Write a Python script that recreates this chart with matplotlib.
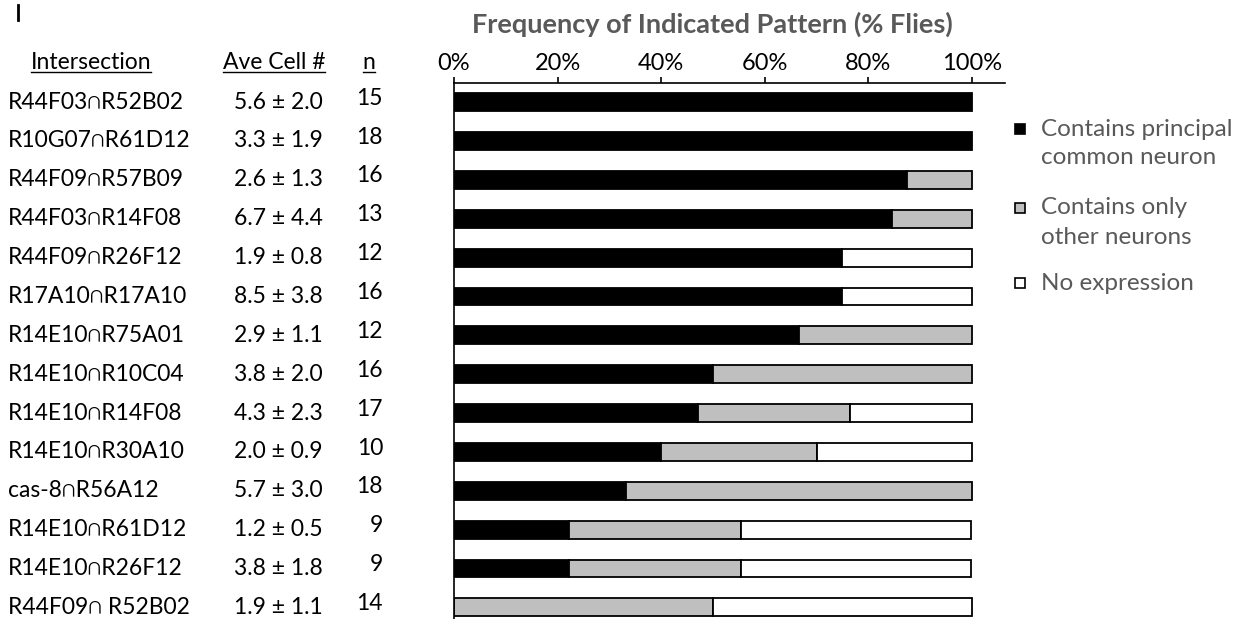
import matplotlib
matplotlib.use('Agg')
import matplotlib.pyplot as plt
import matplotlib.transforms as mtransforms
from matplotlib.lines import Line2D
from matplotlib.patches import Rectangle

plt.rcParams['font.family'] = ['Lato', 'DejaVu Sans']

# table columns
intersections = ['R44F03\u2229R52B02', 'R10G07\u2229R61D12', 'R44F09\u2229R57B09',
                 'R44F03\u2229R14F08', 'R44F09\u2229R26F12', 'R17A10\u2229R17A10',
                 'R14E10\u2229R75A01', 'R14E10\u2229R10C04', 'R14E10\u2229R14F08',
                 'R14E10\u2229R30A10', 'cas-8\u2229R56A12', 'R14E10\u2229R61D12',
                 'R14E10\u2229R26F12', 'R44F09\u2229 R52B02']
ave_cells = ['5.6 \u00b1 2.0', '3.3 \u00b1 1.9', '2.6 \u00b1 1.3', '6.7 \u00b1 4.4',
             '1.9 \u00b1 0.8', '8.5 \u00b1 3.8', '2.9 \u00b1 1.1', '3.8 \u00b1 2.0',
             '4.3 \u00b1 2.3', '2.0 \u00b1 0.9', '5.7 \u00b1 3.0', '1.2 \u00b1 0.5',
             '3.8 \u00b1 1.8', '1.9 \u00b1 1.1']
n_flies = [15, 18, 16, 13, 12, 16, 12, 16, 17, 10, 18, 9, 9, 14]

# % flies per pattern
principal = [100, 100, 87.5, 84.6, 75, 75, 66.7, 50, 47.1, 40, 33.3, 22.2, 22.2, 0]
other_only = [0, 0, 12.5, 15.4, 0, 0, 33.3, 50, 29.4, 30, 66.7, 33.3, 33.3, 50]
no_expr = [0, 0, 0, 0, 25, 25, 0, 0, 23.5, 30, 0, 44.4, 44.4, 50]

legend_labels = ['Contains principal\ncommon neuron',
                 'Contains only\nother neurons',
                 'No expression']
colors = ['#000000', '#bfbfbf', '#ffffff']
xticks = [0, 20, 40, 60, 80, 100]

W, H = 1239, 619
fig = plt.figure(figsize=(W / 100, H / 100), dpi=100)
ax = fig.add_axes([454 / W, 0, 551 / W, (H - 82.7) / H])

rows = list(range(len(intersections)))
left = [0] * len(rows)
for vals, col in zip([principal, other_only, no_expr], colors):
    lw = [1.3 if v > 0 else 0 for v in vals]
    ax.barh(rows, vals, left=left, height=0.46, color=col,
            edgecolor='black', linewidth=lw)
    left = [a + b for a, b in zip(left, vals)]

ax.set_xlim(0, 106.4)
ax.set_ylim(13.3, -0.5)
for s in ['right', 'bottom']:
    ax.spines[s].set_visible(False)
ax.spines['top'].set_linewidth(1.2)
ax.spines['left'].set_linewidth(1.2)
ax.xaxis.tick_top()
ax.set_xticks(xticks)
ax.set_xticklabels([f'{v}%' for v in xticks], fontsize=17)
ax.tick_params(axis='x', direction='out', length=4, width=1.2, pad=2)
ax.set_yticks([])

# table at left
tr = mtransforms.blended_transform_factory(fig.transFigure, ax.transData)
fs = 16.5
for i in rows:
    ax.text(8 / W, i, intersections[i], transform=tr, ha='left', va='center',
            fontsize=fs, clip_on=False)
    ax.text(278 / W, i, ave_cells[i], transform=tr, ha='center', va='center',
            fontsize=fs, clip_on=False)
    ax.text(383 / W, i - 0.1, str(n_flies[i]), transform=tr, ha='right',
            va='center', fontsize=fs, clip_on=False)

head_y = -1.03
headers = [ax.text(91 / W, head_y, 'Intersection', transform=tr, ha='center',
                   va='center', fontsize=fs, clip_on=False),
           ax.text(274 / W, head_y, 'Ave Cell #', transform=tr, ha='center',
                   va='center', fontsize=fs, clip_on=False),
           ax.text(369 / W, head_y, 'n', transform=tr, ha='center',
                   va='center', fontsize=fs, clip_on=False)]

fig.text(712 / W, 1 - 24 / H, 'Frequency of Indicated Pattern (% Flies)',
         ha='center', va='center', fontsize=19.5, fontweight='bold',
         color='#595959')

# stray cursor mark top-left
fig.add_artist(Line2D([18 / W, 18 / W], [1 - 5 / H, 1 - 20 / H],
                      color='black', lw=2))

# legend
leg_y = [129, 208, 283]
for lab, col, y in zip(legend_labels, colors, leg_y):
    fig.add_artist(Rectangle((1015 / W, 1 - (y + 5) / H), 10 / W, 10 / H,
                             facecolor=col, edgecolor='black', lw=1.2))
    for k, line in enumerate(lab.split('\n')):
        fig.text(1041 / W, 1 - (y + 29 * k) / H, line, ha='left',
                 va='center', fontsize=17.5, color='#595959')

# underline headers
fig.canvas.draw()
rend = fig.canvas.get_renderer()
for t in headers:
    bb = t.get_window_extent(rend)
    yy = (bb.y0 + 1) / H
    fig.add_artist(Line2D([bb.x0 / W, bb.x1 / W], [yy, yy], color='black', lw=1))

fig.savefig('out.png', dpi=100)
